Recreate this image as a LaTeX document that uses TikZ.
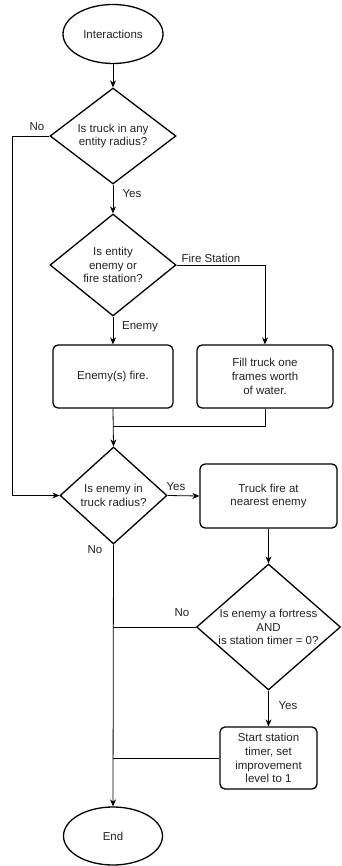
\documentclass[tikz,border=0pt]{standalone}
\usepackage{fontspec}
\setmainfont{Liberation Sans}
\usetikzlibrary{shapes.geometric,arrows.meta}
\definecolor{ink}{HTML}{222222}
\tikzset{
  base/.style={draw=black, line width=1.3pt, inner sep=0pt, text=ink, align=center,
    font=\fontsize{11.5}{13.8}\selectfont},
  term/.style={base, ellipse, minimum width=100pt, minimum height=59pt},
  dec/.style={base, diamond, minimum width=#1},
  procbox/.style={base, rounded corners=5pt},
  conn/.style={draw=black, line width=0.8pt},
  arr/.style={conn, -{Stealth[length=7pt,width=6pt]}},
  lbl/.style={text=ink, font=\fontsize{11.5}{13.8}\selectfont, inner sep=0pt}
}
\begin{document}
\begin{tikzpicture}[x=1pt,y=-1pt]
\useasboundingbox (0,0) rectangle (342,866);
% nodes
\node[term] (start) at (113,34) {Interactions};
\node[base, diamond, minimum width=126pt, minimum height=96pt,
  label={[lbl,align=center]center:Is truck in any\\entity radius?}] (d1) at (113,136) {};
\node[base, diamond, minimum width=126pt, minimum height=102pt,
  label={[lbl,align=center]center:Is entity\\enemy or\\fire station?}] (d2) at (113,265) {};
\node[procbox, minimum width=120pt, minimum height=63pt] (b1) at (113,376.5) {Enemy(s) fire.};
\node[procbox, minimum width=136pt, minimum height=63pt] (b2) at (265,376.5) {Fill truck one\\frames worth\\of water.};
\node[base, diamond, minimum width=107pt, minimum height=97pt,
  label={[lbl,align=center]center:Is enemy in\\truck radius?}] (d3) at (113.5,495.5) {};
\node[procbox, minimum width=137pt, minimum height=64pt] (b3) at (268.5,496) {Truck fire at\\nearest enemy};
\node[base, diamond, minimum width=144pt, minimum height=126pt,
  label={[lbl,align=center]center:Is enemy a fortress\\AND\\is station timer = 0?}] (d4) at (268.5,627) {};
\node[procbox, minimum width=97pt, minimum height=62pt] (b4) at (268.5,758) {Start station\\timer, set\\improvement\\level to 1};
\node[term, minimum width=99pt, minimum height=58pt] (end) at (113,836) {End};
% helper coordinates
\coordinate (c1) at (12,136);
\coordinate (c2) at (12,495.5);
\coordinate (c3) at (265,265);
\coordinate (c4) at (265,426);
\coordinate (c5) at (113,426);
\coordinate (c6) at (113,627);
\coordinate (c7) at (113,758);
% connectors
\draw[arr] (start) -- (d1);
\draw[arr] (d1.south) -- (d2.north);
\draw[arr] (d1.west) -- (c1) -- (c2) -- (d3.west);
\draw[arr] (d2.south) -- (b1.north);
\draw[arr] (d2.east) -- (c3) -- (b2.north);
\draw[arr] (b1.south) -- (d3.north);
\draw[conn] (b2.south) -- (c4) -- (c5);
\draw[arr] (d3.east) -- (b3.west);
\draw[arr] (b3.south) -- (d4.north);
\draw[arr] (d3.south) -- (end.north);
\draw[conn] (d4.west) -- (c6);
\draw[arr] (d4.south) -- (b4.north);
\draw[conn] (b4.west) -- (c7);
% labels
\node[lbl] (l1) at (37,127) {No};
\node[lbl] (l2) at (132,194) {Yes};
\node[lbl] (l3) at (211,258) {Fire Station};
\node[lbl] (l4) at (140,327) {Enemy};
\node[lbl] (l5) at (176,487) {Yes};
\node[lbl] (l6) at (95,550) {No};
\node[lbl] (l7) at (182,613) {No};
\node[lbl] (l8) at (288,706) {Yes};
\end{tikzpicture}
\end{document}
